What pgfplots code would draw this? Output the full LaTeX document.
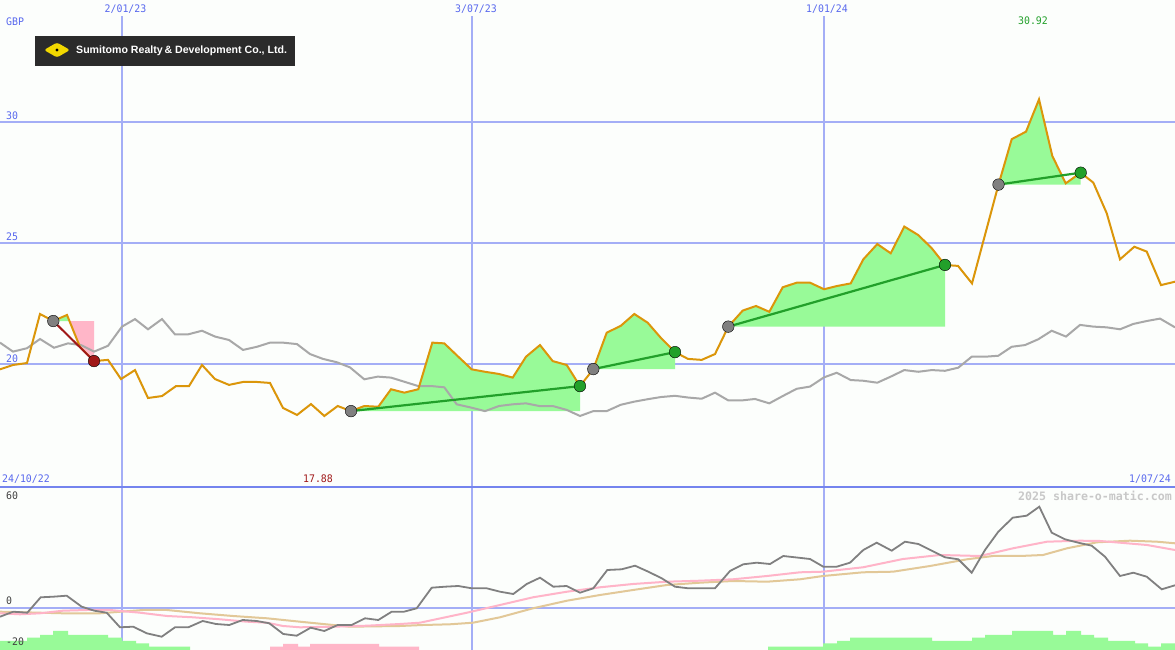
\documentclass[border=0pt]{standalone}
\usepackage{pgfplots}
\pgfplotsset{compat=1.18}
\usepackage{fontspec}
\setmainfont{DejaVu Sans}
\newfontfamily\monof[FakeStretch=0.95]{DejaVu Sans Mono}
\newfontfamily\monob{DejaVu Sans Mono}
\newfontfamily\logof{Liberation Sans}

\definecolor{bg}{HTML}{FCFEFC}
\definecolor{gridc}{HTML}{A4AEF6}
\definecolor{sepc}{HTML}{7484EE}
\definecolor{datec}{HTML}{5868EE}
\definecolor{pricec}{HTML}{DB960A}
\definecolor{benchc}{HTML}{A8A8A8}
\definecolor{fillg}{HTML}{98FA98}
\definecolor{fillp}{HTML}{FFB6C8}
\definecolor{trendg}{HTML}{22A02A}
\definecolor{trendr}{HTML}{A01818}
\definecolor{mkgrey}{HTML}{808080}
\definecolor{osc}{HTML}{808080}
\definecolor{pinkl}{HTML}{FFB4C8}
\definecolor{tanl}{HTML}{E2C898}
\definecolor{logobg}{HTML}{2B2B2B}
\definecolor{embY}{HTML}{F2D800}
\definecolor{lowlab}{HTML}{404040}
\definecolor{wm}{HTML}{C8C8C8}

\pgfplotstableread{
x y
0 19.80
13 19.98
27 20.06
40 22.08
53.3 21.79
67 22.04
80 20.72
94 20.14
108 20.19
121 19.40
135 19.77
148 18.62
162 18.70
176 19.11
189 19.11
202 19.98
215 19.40
229 19.16
243 19.28
257 19.28
270 19.24
283 18.21
297 17.92
311 18.37
324.3 17.88
337.7 18.29
351 18.08
364.3 18.29
378.3 18.26
391 18.98
404.3 18.84
418.3 18.98
432.3 20.90
444.3 20.87
458.3 20.32
471.7 19.80
485 19.70
499 19.61
512.7 19.46
526 20.32
540 20.80
552.7 20.14
566.7 19.98
580 19.11
593.3 19.81
606.7 21.31
620.7 21.59
634.3 22.08
647.7 21.72
661 21.09
675 20.51
688 20.23
701.7 20.19
715 20.43
728.3 21.56
742.7 22.22
756 22.41
769.3 22.17
782.7 23.18
796.7 23.37
810 23.37
824 23.10
836.7 23.23
850.7 23.34
863.3 24.33
877.3 24.96
890.7 24.58
904.3 25.68
918.3 25.33
931.7 24.79
945 24.10
958 24.06
972 23.34
998.5 27.41
1011.7 29.28
1026 29.59
1039 30.92
1052.3 28.59
1065.7 27.46
1080.7 27.90
1093.3 27.49
1106.7 26.23
1120 24.33
1134.3 24.85
1146.7 24.65
1161 23.27
1175 23.41
}\pricetab

\pgfplotstableread{
x y
0 20.90
13 20.53
27 20.67
40 21.05
54 20.69
68 20.87
81 20.80
94 20.53
108 20.77
122 21.56
135 21.87
148 21.45
162 21.87
175 21.24
188 21.24
202 21.39
215 21.15
229 21.01
243 20.60
257 20.73
270 20.90
283 20.90
297 20.84
310 20.43
323 20.23
337 20.09
350 19.88
364.3 19.39
377.7 19.50
391 19.46
404.3 19.29
418.3 19.11
431.7 19.11
444.3 19.06
456.7 18.36
471.7 18.22
485 18.08
499 18.29
512.7 18.36
526 18.40
539.3 18.29
552.7 18.29
566.7 18.13
580 17.88
593.3 18.08
606.7 18.08
620.7 18.34
634.3 18.47
647.7 18.57
661 18.66
675 18.71
688 18.64
701.7 18.59
715 18.84
728.3 18.52
741.7 18.52
755 18.58
769.3 18.40
782.7 18.70
796.7 19.00
810 19.09
824 19.47
836.7 19.66
850.7 19.36
863.3 19.33
877.3 19.25
890.7 19.50
904.3 19.77
918.3 19.70
931.7 19.77
945 19.74
958.3 19.87
971.7 20.32
985 20.32
998.3 20.36
1011.7 20.73
1025 20.80
1038.3 21.04
1051.7 21.39
1066 21.15
1080 21.63
1093.3 21.56
1106.7 21.53
1120 21.45
1133.3 21.67
1146.7 21.79
1160 21.89
1175 21.53
}\benchtab

\pgfplotstableread{
x y
0 -4.5
13.3 -2.0
27.3 -2.5
40.7 5.2
53.3 5.5
66.7 6.0
81.7 0.5
94.3 -1.5
106.7 -2.5
120 -9.8
133.3 -9.5
146.7 -12.8
161.7 -14.5
175 -9.8
188.3 -9.8
202.7 -6.65
216 -8.15
229.3 -8.65
242.7 -6.15
256.7 -6.65
269.3 -7.8
283.3 -13.15
296.7 -14.0
310.7 -10.0
324.3 -11.65
337.7 -8.65
351.7 -8.65
365 -5.3
378.3 -6.15
391.7 -2.0
404 -2.0
416.7 -0.3
431.7 10.0
445 10.5
458.3 10.85
471.7 9.7
486.7 9.7
500 8.0
513.3 6.85
526.7 11.85
540 15.0
553.3 10.5
566.7 10.85
580 7.5
593.3 9.7
607.3 18.85
621.7 19.2
635 21.0
648.3 18.0
661.7 14.7
675 10.5
688.3 9.7
701.7 9.7
715 9.7
730 18.35
743.3 21.7
756.7 22.5
770 21.85
783.3 25.85
796.7 25.1
810 24.35
823.3 20.5
836.7 20.5
850 22.5
863.3 28.85
876.7 32.5
891.7 28.5
905 33.0
918.3 31.85
931.7 28.5
945 25.2
958.3 24.2
971.7 17.5
985 28.85
998.3 38.0
1012.7 45.0
1026.7 46.0
1039.3 50.5
1051.7 37.5
1065 34.2
1078.3 32.5
1091.7 31.0
1105 25.5
1120 15.85
1133.3 17.5
1146.7 15.5
1161.7 9.2
1175 11.2
}\osctab

\pgfplotstableread{
x y
0 -2.8
20 -3.3
40 -2.8
63 -1.5
87 -1.15
110 -1.15
140 -2.5
167 -4.15
193 -4.8
220 -5.8
247 -7.0
267 -7.5
283 -9.15
300 -9.8
333 -9.5
367 -9.0
400 -8.15
420 -7.5
467 -2.5
500 1.35
533 5.2
567 8.0
600 10.2
633 11.85
667 13.0
700 13.5
733 14.2
767 15.85
800 17.7
823 18.0
863 20.2
903 24.35
940 26.35
980 25.85
1013 29.7
1047 33.0
1080 33.5
1100 33.35
1120 32.5
1147 31.35
1175 28.85
}\pinktab

\pgfplotstableread{
x y
0 -2.0
63 -2.8
100 -2.8
143 -1.15
167 -1.15
200 -2.8
233 -4.15
267 -5.3
300 -7.0
333 -8.65
350 -9.5
400 -9.15
423 -8.65
450 -8.3
473 -7.5
500 -4.8
533 -0.3
567 3.5
600 6.35
633 8.85
667 11.35
700 12.5
733 13.35
767 13.0
800 14.2
823 15.85
863 17.7
893 18.0
930 20.85
967 24.2
993 25.85
1020 25.85
1043 26.35
1067 29.7
1097 32.7
1130 33.5
1157 33.0
1175 32.2
}\tantab

\begin{document}
\begin{tikzpicture}[x=1pt,y=1pt]
\fill[bg] (0,0) rectangle (1175,650);
\useasboundingbox (0,0) rectangle (1175,650);
% grid
\foreach \yy in {528.3,406.7,285.5,42.3} {\draw[gridc, line width=2pt] (0,\yy) -- (1175,\yy);}
\foreach \xx in {122,472,824} {\draw[gridc, line width=1.3pt] (\xx,0) -- (\xx,634);}
\draw[sepc, line width=2.5pt] (0,163) -- (1175,163);

% upper panel
\begin{axis}[at={(0pt,163pt)}, anchor=south west, width=1175pt, height=487pt, scale only axis,
  xmin=0, xmax=1175, ymin=14.9547, ymax=35.0124, hide axis, clip=true]
\addplot[fill=fillg, draw=none] coordinates {(53.3,21.79) (67,22.04) (69.5,21.79)} -- cycle;
\addplot[fill=fillp, draw=none] coordinates {(69.5,21.79) (80,20.72) (94,20.14) (94,21.79)} -- cycle;
\addplot[fill=fillg, draw=none] coordinates {(351,18.08) (364.3,18.29) (378.3,18.26) (391,18.98) (404.3,18.84) (418.3,18.98) (432.3,20.90) (444.3,20.87) (458.3,20.32) (471.7,19.80) (485,19.70) (499,19.61) (512.7,19.46) (526,20.32) (540,20.80) (552.7,20.14) (566.7,19.98) (580,19.11) (580,18.08)} -- cycle;
\addplot[fill=fillg, draw=none] coordinates {(593.3,19.81) (606.7,21.31) (620.7,21.59) (634.3,22.08) (647.7,21.72) (661,21.09) (675,20.51) (675,19.81)} -- cycle;
\addplot[fill=fillg, draw=none] coordinates {(728.3,21.56) (742.7,22.22) (756,22.41) (769.3,22.17) (782.7,23.18) (796.7,23.37) (810,23.37) (824,23.10) (836.7,23.23) (850.7,23.34) (863.3,24.33) (877.3,24.96) (890.7,24.58) (904.3,25.68) (918.3,25.33) (931.7,24.79) (945,24.10) (945,21.56)} -- cycle;
\addplot[fill=fillg, draw=none] coordinates {(998.5,27.41) (1011.7,29.28) (1026,29.59) (1039,30.92) (1052.3,28.59) (1065.7,27.46) (1080.7,27.90) (1080.7,27.41)} -- cycle;
\addplot[benchc, line width=2pt] table {\benchtab};
\addplot[pricec, line width=2pt] table {\pricetab};
\addplot[trendr, line width=2pt] coordinates {(53.3,21.79) (94,20.14)};
\addplot[trendg, line width=2.2pt] coordinates {(351,18.08) (580,19.11)};
\addplot[trendg, line width=2.2pt] coordinates {(593.3,19.81) (675,20.51)};
\addplot[trendg, line width=2.2pt] coordinates {(728.3,21.56) (945,24.10)};
\addplot[trendg, line width=2.2pt] coordinates {(998.5,27.41) (1080.7,27.90)};
\addplot[only marks, mark=*, mark size=5.8pt, mark options={fill=mkgrey, draw=none}] coordinates {(53.3,21.79) (351,18.08) (593.3,19.81) (728.3,21.56) (998.5,27.41)};
\addplot[only marks, mark=*, mark size=5.8pt, mark options={fill=trendg, draw=none}] coordinates {(580,19.11) (675,20.51) (945,24.10) (1080.7,27.90)};
\addplot[only marks, mark=*, mark size=5.8pt, mark options={fill=trendr, draw=none}] coordinates {(94,20.14)};
\end{axis}

% lower panel
\begin{axis}[at={(0pt,0pt)}, anchor=south west, width=1175pt, height=163pt, scale only axis,
  xmin=0, xmax=1175, ymin=-21.15, ymax=60.35, hide axis, clip=true]
\addplot[const plot, fill=fillg, draw=none] coordinates {(0,-25) (0,-16.65) (27,-15) (40,-13.65) (53,-11.65) (68,-13.65) (108,-15) (122,-16.65) (136,-17.8) (149,-19.5) (190,-19.5) (190,-25)} -- cycle;
\addplot[const plot, fill=fillp, draw=none] coordinates {(270,-25) (270,-19.5) (283,-18.15) (298,-19.5) (310,-18.15) (379,-19.5) (419,-19.5) (419,-25)} -- cycle;
\addplot[const plot, fill=fillg, draw=none] coordinates {(768,-25) (768,-19.5) (823,-17.8) (837,-16.65) (850,-15.0) (932,-16.65) (972,-15.0) (985,-13.65) (1012,-11.65) (1053,-13.65) (1066,-11.65) (1081,-13.65) (1094,-15.0) (1108,-16.65) (1135,-17.8) (1148,-19.5) (1161,-17.8) (1175,-17.8) (1175,-25)} -- cycle;
\addplot[tanl, line width=2pt] table {\tantab};
\addplot[pinkl, line width=2pt] table {\pinktab};
\addplot[osc, line width=1.8pt] table {\osctab};
\end{axis}

% logo
\fill[logobg] (35,584) rectangle (295,614);
\fill[embY, rounded corners=2.5pt] (44,600) -- (57,607.5) -- (70,600) -- (57,592.5) -- cycle;
\fill[black] (57,600) circle (1.6);
\node[anchor=base west, inner sep=0pt, text=white, font=\logof\bfseries\fontsize{10.6}{12}\selectfont] at (76,596) {Sumitomo Realty\,\& Development Co., Ltd.};

% labels
\tikzset{lab/.style={inner sep=0pt, font=\monof\fontsize{10.4}{12}\selectfont}}
\node[lab, anchor=base, text=datec] at (125.5,637.7) {2/01/23};
\node[lab, anchor=base, text=datec] at (476,637.7) {3/07/23};
\node[lab, anchor=base, text=datec] at (827,637.7) {1/01/24};
\node[lab, anchor=base west, text=datec] at (6,624.7) {GBP};
\node[lab, anchor=base west, text=datec] at (6,530.3) {30};
\node[lab, anchor=base west, text=datec] at (6,409) {25};
\node[lab, anchor=base west, text=datec] at (6,287) {20};
\node[lab, anchor=base west, text=datec] at (2,167) {24/10/22};
\node[lab, anchor=base, text=trendr] at (318,167) {17.88};
\node[lab, anchor=base east, text=datec] at (1171,167) {1/07/24};
\node[lab, anchor=base, text=trendg] at (1033,625) {30.92};
\node[inner sep=0pt, anchor=base east, text=wm, font=\monob\bfseries\fontsize{11.6}{13}\selectfont] at (1172,149.5) {2025 share-o-matic.com};
\node[lab, anchor=base west, text=lowlab] at (6,150.5) {60};
\node[lab, anchor=base west, text=lowlab] at (6,45) {0};
\node[lab, anchor=base west, text=lowlab] at (6,4) {-20};
\end{tikzpicture}
\end{document}
